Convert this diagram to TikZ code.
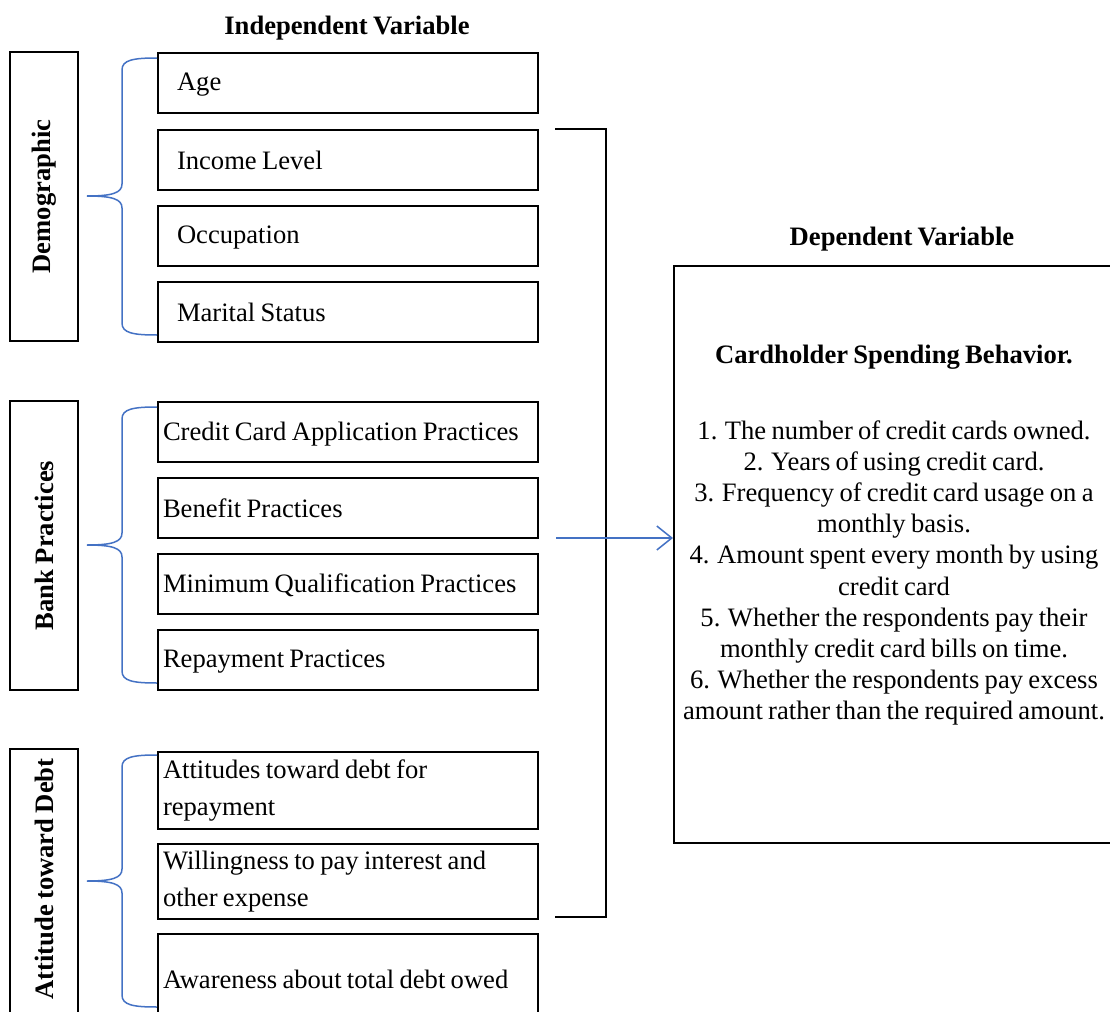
\documentclass[tikz,border=0pt]{standalone}
\usepackage{fontspec}
\setmainfont{Liberation Serif}[WordSpace=0.8]
\usetikzlibrary{arrows.meta}
\definecolor{bblue}{RGB}{68,114,196}
\newcommand{\mybrace}[3]{%
  \draw[bracecol] (157,#1) .. controls (133,#1) and (122,#1+2) .. (122,#1+12)
    -- (122,#3-12) .. controls (122,#3-3) and (112,#3) .. (87,#3)
    .. controls (112,#3) and (122,#3+3) .. (122,#3+12)
    -- (122,#2-12) .. controls (122,#2-2) and (133,#2) .. (157,#2);}
\begin{document}
\begin{tikzpicture}[x=0.5pt,y=-0.5pt,
  txt/.style={font=\fontsize{13.3}{15.6}\selectfont},
  box/.style={draw, line width=1pt, anchor=north west, minimum width=190pt,
    minimum height=30pt, txt, align=flush left, inner xsep=2.5pt, text width=185pt},
  demo/.style={box, inner xsep=9.5pt, text width=171pt},
  cat/.style={draw, line width=1pt, rotate=90, minimum height=34pt,
    font=\fontsize{13.3}{15.6}\selectfont\bfseries},
  ttl/.style={font=\fontsize{13.3}{15.6}\selectfont\bfseries},
  two/.style={font=\fontsize{13.3}{18.7}\selectfont},
  bracecol/.style={bblue, line width=0.75pt},
  conn/.style={line width=1pt},
]
\useasboundingbox (0,0) rectangle (1110,1012);

% titles
\node[ttl] (indep) at (347,28) {Independent Variable};
\node[ttl] (dep) at (902,239) {Dependent Variable};

% category boxes
\node[cat, minimum width=144.5pt] (demog) at (44,196.5) {Demographic};
\node[cat, minimum width=144.5pt] (bank) at (44,545.5) {Bank Practices};
\draw[line width=1pt] (10,749) rectangle (78,1030);
\node[ttl, rotate=90] (att) at (44,879) {Attitude toward Debt};

% demographic items
\node[demo, text depth=1pt] (age) at (157,52) {Age};
\node[demo] (inc) at (157,129) {Income Level};
\node[demo, text depth=1pt] (occ) at (157,205) {Occupation};
\node[demo] (mar) at (157,281) {Marital Status};

% bank items
\node[box, text depth=1pt] (cca) at (157,401) {Credit Card Application Practices};
\node[box] (ben) at (157,477) {Benefit Practices};
\node[box, text depth=1pt] (minq) at (157,553) {Minimum Qualification Practices};
\node[box, text depth=1pt] (rep) at (157,629) {Repayment Practices};

% attitude items
\node[box, minimum height=38.5pt, two] (atd) at (157,751) {Attitudes toward debt for\\repayment};
\node[box, minimum height=37pt, two] (wil) at (157,843) {Willingness to pay interest and\\other expense};
\node[box, minimum height=45pt] (awa) at (157,933) {Awareness about total debt owed};

% braces
\mybrace{58}{335}{196}
\mybrace{407}{683}{545}
\mybrace{755}{1007}{881}

% big bracket
\coordinate (bt) at (555,129);
\coordinate (bb) at (555,917);
\draw[conn] (bt) -| (606,917) -- (bb);

% dependent box
\node[draw, line width=1pt, anchor=north west, minimum width=221pt, minimum height=288.5pt] (depbox) at (673,265) {};
\coordinate (astart) at (556,538);
\draw[bracecol, -{Straight Barb[length=7.5pt,width=12pt,line width=0.75pt]}] (astart) -- (astart -| depbox.west);

\node[ttl] (cshead) at (894,357) {Cardholder Spending Behavior.};
\node[txt, align=center] (cslist) at (894,573) {1. The number of credit cards owned.\\
2. Years of using credit card.\\
3. Frequency of credit card usage on a\\
monthly basis.\\
4. Amount spent every month by using\\
credit card\\
5. Whether the respondents pay their\\
monthly credit card bills on time.\\
6. Whether the respondents pay excess\\
amount rather than the required amount.};
\end{tikzpicture}
\end{document}
